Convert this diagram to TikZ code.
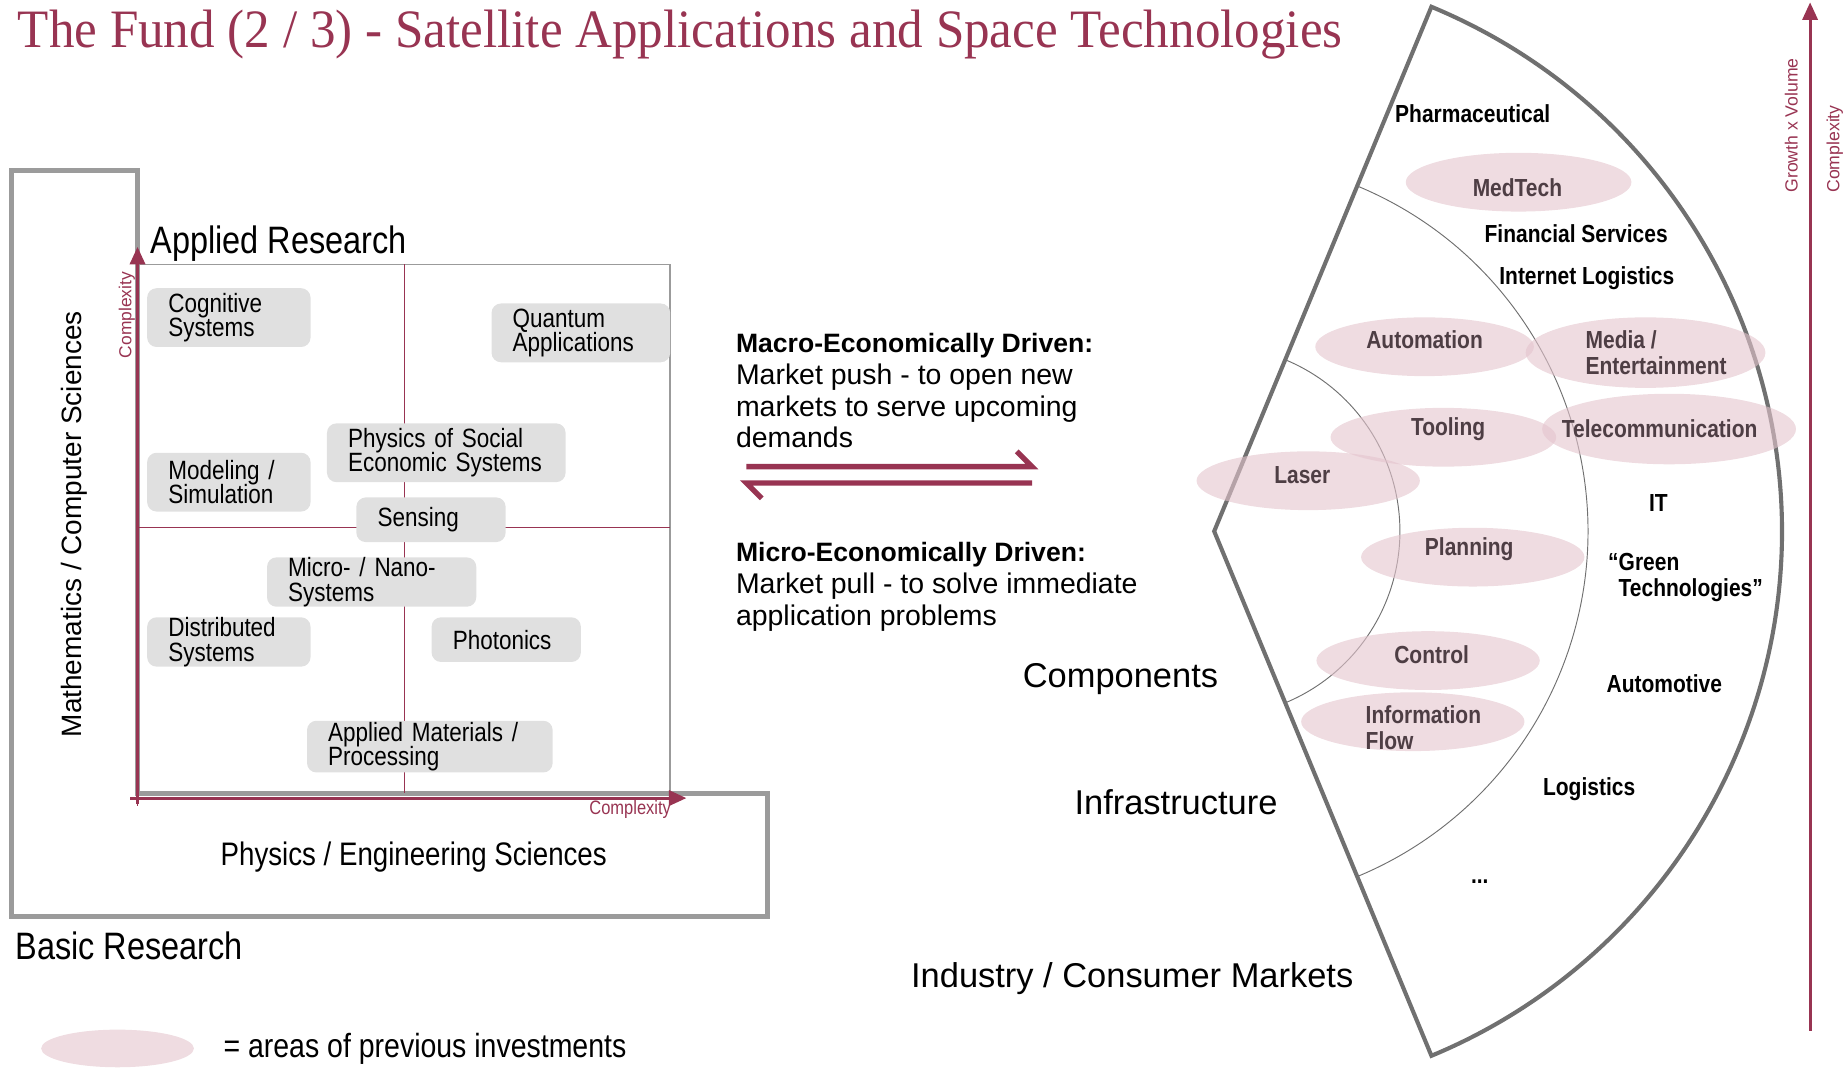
\documentclass[tikz,border=0pt]{standalone}
\usepackage{fontspec}
\setmainfont{Liberation Sans}
\newfontfamily\condfont[FakeStretch=0.85]{Liberation Sans}
\newfontfamily\titlefont[FakeStretch=0.945]{Liberation Serif}
\usetikzlibrary{positioning}
\usetikzlibrary{arrows.meta}

\definecolor{fundred}{RGB}{152,52,82}
\definecolor{boxgray}{RGB}{224,224,224}
\definecolor{framegray}{RGB}{155,155,155}
\definecolor{fangray}{RGB}{112,112,112}
\definecolor{investpink}{RGB}{228,196,205}
\definecolor{investtext}{RGB}{78,62,68}

\begin{document}
\begin{tikzpicture}
	[x=1pt, y=-1pt,
	topic/.style={fill=boxgray, rounded corners=8pt, anchor=north west, align=left, inner xsep=18pt, inner ysep=0pt, font=\condfont\fontsize{22.5}{21}\selectfont},
	axis/.style={draw=fundred, line width=2.5pt, -{Triangle[length=15pt, width=13pt]}},
	axislabel/.style={text=fundred, inner sep=0pt},
	flow/.style={draw=fundred, line width=4.5pt, miter limit=4},
	drive/.style={align=left, inner sep=0pt, anchor=north west, font=\fontsize{24.2}{27}\selectfont},
	field/.style={inner sep=0pt, anchor=base west, font=\fontsize{29.3}{32}\selectfont},
	market/.style={inner sep=0pt, align=left, font=\condfont\bfseries\fontsize{21}{22}\selectfont},
	invest/.style={fill=investpink, fill opacity=0.6},
	investlabel/.style={market, text=investtext}]

\useasboundingbox (0,0) rectangle (1568,908);

\node [anchor=base west, inner sep=0pt, text=fundred, font=\titlefont\fontsize{46}{50}\selectfont] (title) at (15,40) {The Fund (2 / 3) - Satellite Applications and Space Technologies};

% research fields
\draw [framegray, line width=4pt] (10,145) -- (117,145) -- (117,675) -- (653,675) -- (653,780) -- (10,780) -- cycle;
\draw [framegray, line width=1pt] (117,225) rectangle (570,675);
\draw [fundred, line width=0.9pt] (344,225) -- (344,675) (117,449) -- (570,449);
\draw [axis] (117,684) -- (117,210);
\draw [axis] (111,679) -- (584,679);
\draw [fundred, line width=1.5pt] (117,673) -- (117,686);
\node [axislabel, rotate=90, font=\fontsize{14.8}{16}\selectfont] (ycomplex) at (108,268) {Complexity};
\node [axislabel, anchor=base east, font=\condfont\fontsize{16.5}{18}\selectfont] (xcomplex) at (571,693) {Complexity};

\node [inner sep=0pt, anchor=base west, font=\condfont\fontsize{32.5}{34}\selectfont] (applied) at (128,216) {Applied Research};
\node [inner sep=0pt, anchor=base west, font=\condfont\fontsize{32.5}{34}\selectfont] (basic) at (13,816) {Basic Research};
\node [inner sep=0pt, rotate=90, font=\fontsize{23.8}{26}\selectfont] (maths) at (63,446) {Mathematics / Computer Sciences};
\node [inner sep=0pt, anchor=base, font=\condfont\fontsize{27.7}{30}\selectfont] (physics) at (352,736) {Physics / Engineering Sciences};

\node [topic, text width=103pt, minimum height=50pt] (cognitive) at (125,245) {Cognitive\\Systems};
\node [topic, text width=116pt, minimum height=50pt] (quantum) at (418,258) {Quantum\\Applications};
\node [topic, text width=167pt, minimum height=50pt] (socialphys) at (278,360) {Physics of Social\\Economic Systems};
\node [topic, text width=103pt, minimum height=50pt] (modeling) at (125,385) {Modeling /\\Simulation};
\node [topic, text width=91pt, minimum height=38pt] (sensing) at (303,423) {Sensing};
\node [topic, text width=142pt, minimum height=39pt] (micronano) at (227,474) {Micro- / Nano-\\Systems};
\node [topic, text width=103pt, minimum height=38pt] (distributed) at (125,525) {Distributed\\Systems};
\node [topic, text width=91pt, minimum height=38pt] (photonics) at (367,525) {Photonics};
\node [topic, text width=173pt, minimum height=44pt] (materials) at (261,613) {Applied Materials /\\Processing};

% legend
\fill [invest] (100,892) ellipse [x radius=65, y radius=16];
\node [inner sep=0pt, anchor=base west, font=\condfont\fontsize{28.5}{30}\selectfont] (legend) at (190,900) {= areas of previous investments};

% push and pull
\node [drive] (macro) at (626,283.5) {\textbf{\fontsize{22.6}{27}\selectfont Macro-Economically Driven:}\\Market push - to open new\\markets to serve upcoming\\demands};
\node [drive] (micro) at (626,461.5) {\textbf{\fontsize{22.6}{27}\selectfont Micro-Economically Driven:}\\Market pull - to solve immediate\\application problems};
\coordinate (pushstart) at (635,397);
\coordinate (pushend) at (878,397);
\coordinate (pullstart) at (878,411);
\coordinate (pullend) at (635,411);
\draw [flow] (pushstart) -- (pushend) -- ++(-13,-13);
\draw [flow] (pullstart) -- (pullend) -- ++(13,13);

\node [field] (components) at (870,585) {Components};
\node [field] (infrastructure) at (914,693) {Infrastructure};
\node [field] (industry) at (775,840) {Industry / Consumer Markets};

% market fan
\coordinate (apex) at (1033,452);
\draw [fangray, line width=0.8pt] (apex) ++(-67.5:318) arc [start angle=-67.5, end angle=67.5, radius=318];
\draw [fangray, line width=0.8pt] (apex) ++(-67.5:158) arc [start angle=-67.5, end angle=67.5, radius=158];
\draw [fangray, line width=3.5pt, line join=miter] (apex) -- ++(-67.5:483) arc [start angle=-67.5, end angle=67.5, radius=483] -- cycle;

\fill [invest] (1292,155) ellipse [x radius=96, y radius=25];
\fill [invest] (1212,295) ellipse [x radius=93, y radius=25];
\fill [invest] (1400,300) ellipse [x radius=102, y radius=30];
\fill [invest] (1228,372) ellipse [x radius=96, y radius=25];
\fill [invest] (1420,365) ellipse [x radius=108, y radius=30];
\fill [invest] (1113,409) ellipse [x radius=95, y radius=25];
\fill [invest] (1253,474) ellipse [x radius=95, y radius=25];
\fill [invest] (1215,562) ellipse [x radius=95, y radius=25];
\fill [invest] (1202,614) ellipse [x radius=95, y radius=25];

\node [investlabel] (medtech) at (1291,160) {MedTech};
\node [investlabel] (automation) at (1212,289) {Automation};
\node [investlabel] (media) at (1409,300) {Media /\\Entertainment};
\node [investlabel] (tooling) at (1232,365) {Tooling};
\node [investlabel] (telecom) at (1412,365) {Telecommunication};
\node [investlabel] (laser) at (1108,404) {Laser};
\node [investlabel] (planning) at (1250,467) {Planning};
\node [investlabel] (control) at (1218,557) {Control};
\node [investlabel] (infoflow) at (1211,619) {Information\\Flow};

\node [market] (pharma) at (1253,97) {Pharmaceutical};
\node [market] (finance) at (1341,199) {Financial Services};
\node [market] (netlogistics) at (1350,237) {Internet Logistics};
\node [market] (it) at (1411,428) {IT};
\node [market] (green) at (1434,491) {“Green\\\phantom{“}Technologies”};
\node [market] (automotive) at (1416,582) {Automotive};
\node [market] (logistics) at (1352,671) {Logistics};
\node [market] (more) at (1259,750) {...};

% growth axis
\draw [axis] (1540,877) -- (1540,2);
\node [axislabel, rotate=90, anchor=west, font=\fontsize{15}{16}\selectfont] (growth) at (1524,164) {Growth x Volume};
\node [axislabel, rotate=90, anchor=west, font=\fontsize{15}{16}\selectfont] (complexity) at (1561,164) {Complexity};

\end{tikzpicture}
\end{document}
